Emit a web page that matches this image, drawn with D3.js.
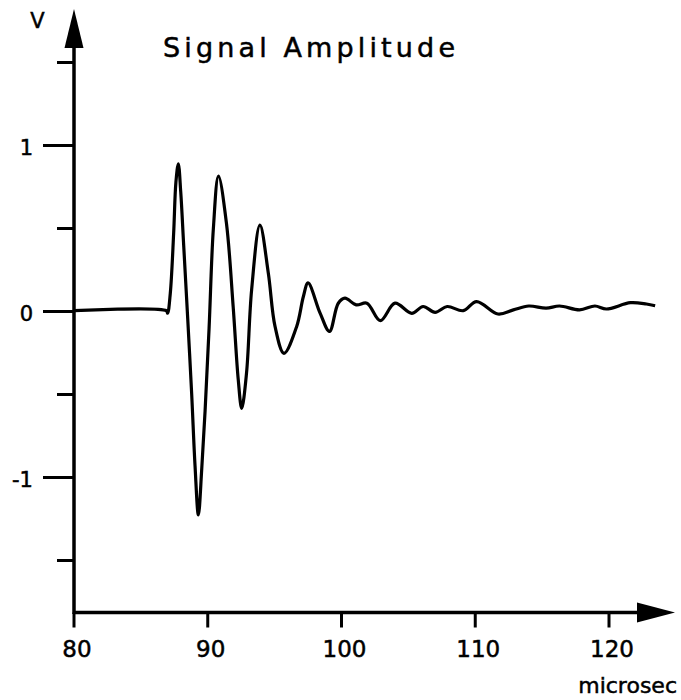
<!DOCTYPE html>
<html>
<head>
<meta charset="utf-8">
<script src="https://cdn.jsdelivr.net/npm/d3@7"></script>
<style>
  html, body { margin: 0; padding: 0; background: #fff; }
  svg { display: block; }
  text { font-family: "DejaVu Sans", sans-serif; fill: #000; stroke: #000; stroke-width: 0.5; }
</style>
</head>
<body>
<svg id="chart" width="681" height="700"></svg>
<script>
// ---- data ----
const title = "Signal Amplitude";
const yLabel = "V";
const xLabel = "microsec";
const xTicks = [80, 90, 100, 110, 120];
const yMajorTicks = [-1, 0, 1];
const yMinorTicks = [-1.5, -0.5, 0.5, 1.5];

const times = [
  80, 86.9, 87.0, 87.2, 87.45, 87.62, 87.8, 87.98, 88.2, 88.5, 88.8, 89.05, 89.3,
  89.55, 89.8, 90.1, 90.42, 90.8,
  91.4, 91.9, 92.28, 92.54, 92.9, 93.28, 93.9, 94.53, 95.03, 95.7, 96.65, 97.15, 97.5,
  98.4, 99.1, 99.76, 100.26, 101.1, 101.9, 102.9, 104.0, 105.25, 106.1, 107.0, 107.9,
  109.1, 110.1, 111.7, 112.85, 114.0, 115.3, 116.3, 117.8, 118.95, 119.8, 121.6, 122.8, 123.45
];
const volts = [
  0.005, 0.005, -0.01, 0.11, 0.47, 0.78, 0.89, 0.72, 0.40, -0.04, -0.50, -0.93, -1.226,
  -0.95, -0.6, -0.1, 0.5, 0.816,
  0.53, 0.03, -0.41, -0.583, -0.37, 0.13, 0.52, 0.23, -0.09, -0.252, -0.09, 0.09, 0.172,
  -0.01, -0.12, 0.05, 0.08, 0.04, 0.05, -0.055, 0.05, -0.011, 0.03, -0.005, 0.03,
  0.005, 0.06, -0.015, 0.01, 0.033, 0.02, 0.033, 0.01, 0.033, 0.015, 0.053, 0.045, 0.035
];

// ---- layout ----
const svg = d3.select("#chart");
const x = d3.scaleLinear().domain([80, 120]).range([74, 609]);
const y = d3.scaleLinear().domain([-1, 1]).range([477.5, 145.5]);
const xAxisY = 612.5;
const xEnd = 675, yTop = 9;

const g = svg.append("g");

// axes lines
g.append("line").attr("x1", x(80)).attr("x2", xEnd - 30).attr("y1", xAxisY).attr("y2", xAxisY)
  .attr("stroke", "#000").attr("stroke-width", 3.5);
g.append("line").attr("x1", x(80)).attr("x2", x(80)).attr("y1", xAxisY + 1.5).attr("y2", yTop + 30)
  .attr("stroke", "#000").attr("stroke-width", 3.5);

// arrow heads
g.append("path")
  .attr("d", `M${xEnd},${xAxisY} L${xEnd - 38},${xAxisY - 10} L${xEnd - 38},${xAxisY + 10} Z`)
  .attr("fill", "#000");
g.append("path")
  .attr("d", `M${x(80)},${yTop} L${x(80) - 9.5},${yTop + 39} L${x(80) + 9.5},${yTop + 39} Z`)
  .attr("fill", "#000");

// x ticks
g.selectAll(".xt").data(xTicks).join("line")
  .attr("x1", d => x(d)).attr("x2", d => x(d))
  .attr("y1", xAxisY).attr("y2", xAxisY + 15)
  .attr("stroke", "#000").attr("stroke-width", 3);
g.selectAll(".xl").data(xTicks).join("text")
  .attr("x", d => x(d) + 3).attr("y", 657)
  .attr("text-anchor", "middle").attr("font-size", 23)
  .text(d => d);

// y ticks
g.selectAll(".ymaj").data(yMajorTicks).join("line")
  .attr("x1", x(80) - 31).attr("x2", x(80))
  .attr("y1", d => y(d)).attr("y2", d => y(d))
  .attr("stroke", "#000").attr("stroke-width", 3);
g.selectAll(".ymin").data(yMinorTicks).join("line")
  .attr("x1", x(80) - 17).attr("x2", x(80))
  .attr("y1", d => y(d)).attr("y2", d => y(d))
  .attr("stroke", "#000").attr("stroke-width", 3);
g.selectAll(".yl").data(yMajorTicks).join("text")
  .attr("x", 33).attr("y", d => y(d) + 9)
  .attr("text-anchor", "end").attr("font-size", 21)
  .text(d => d < 0 ? "-" + Math.abs(d) : d);

// labels
g.append("text").attr("x", 37.5).attr("y", 28).attr("text-anchor", "middle")
  .attr("font-size", 21).text(yLabel);
g.append("text").attr("x", 677).attr("y", 693).attr("text-anchor", "end")
  .attr("font-size", 22).text(xLabel);
g.append("text").attr("x", 163).attr("y", 57).attr("font-size", 27)
  .attr("textLength", 292).attr("lengthAdjust", "spacing").text(title);

// signal
const pts = times.map((t, i) => [t, volts[i]]);
const line = d3.line().x(d => x(d[0])).y(d => y(d[1])).curve(d3.curveCatmullRom.alpha(0.5));
g.append("path").datum(pts).attr("d", line)
  .attr("fill", "none").attr("stroke", "#000").attr("stroke-width", 3.2)
  .attr("stroke-linejoin", "round");
</script>
</body>
</html>
